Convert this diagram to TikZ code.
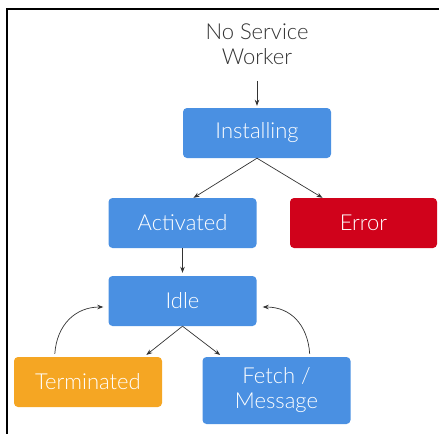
\documentclass[tikz,border=0pt]{standalone}
\usepackage{fontspec}
\setmainfont{Lato}[UprightFont={* Light}]
\usetikzlibrary{arrows.meta}
\definecolor{swblue}{HTML}{4A90E2}
\definecolor{swred}{HTML}{D0021B}
\definecolor{sworange}{HTML}{F5A623}
\definecolor{swline}{HTML}{333333}

\begin{document}
\begin{tikzpicture}[x=1pt,y=-1pt,
	state/.style={fill=swblue,text=white,rounded corners=4pt,minimum width=148pt,minimum height=50pt,inner sep=0pt,align=center,font=\fontsize{22}{25}\selectfont},
	flow/.style={draw=swline,line width=0.7pt,-{Stealth[length=6pt,width=4.5pt]}}]
					\useasboundingbox (0,0) rectangle (439,434);
					\draw[line width=2.6pt] (439,9) -- (7,9) -- (7,434);
					\node[text=swline,align=center,font=\fontsize{22}{25}\selectfont] (none) at (257,44) {No Service\\Worker};
					\node[state] (inst) at (257,133) {Installing};
					\node[state] (act) at (182.5,223) {Activated};
					\node[state,fill=swred,minimum width=147pt] (err) at (363.5,223) {Error};
					\node[state] (idle) at (182.5,301) {Idle};
					\node[state,fill=sworange] (term) at (88,382) {Terminated};
					\node[state,minimum height=67pt] (fetch) at (276.5,390.5) {Fetch /\\Message};
					\draw[flow,shorten <=13pt,shorten >=2pt] (none) -- (inst);
					\draw[flow] (inst.south) -- ([xshift=11pt]act.north);
					\draw[flow] (inst.south) -- ([xshift=-41pt]err.north);
					\draw[flow,shorten >=3pt] (act) -- (idle);
					\draw[flow,shorten >=3pt] (idle.south) -- ([xshift=56pt]term.north);
					\draw[flow,shorten >=3pt] (idle.south) -- ([xshift=-54pt]fetch.north);
%back to idle
					\draw[flow] ([xshift=41pt,yshift=3pt]term.north west) .. controls +(2,-29) and +(-28,0) .. ([xshift=-5pt,yshift=-6pt]idle.west);
					\draw[flow] ([xshift=-41pt,yshift=3pt]fetch.north east) .. controls +(-2,-29) and +(28,0) .. ([xshift=6pt,yshift=-6pt]idle.east);
				  \end{tikzpicture}
\end{document}
